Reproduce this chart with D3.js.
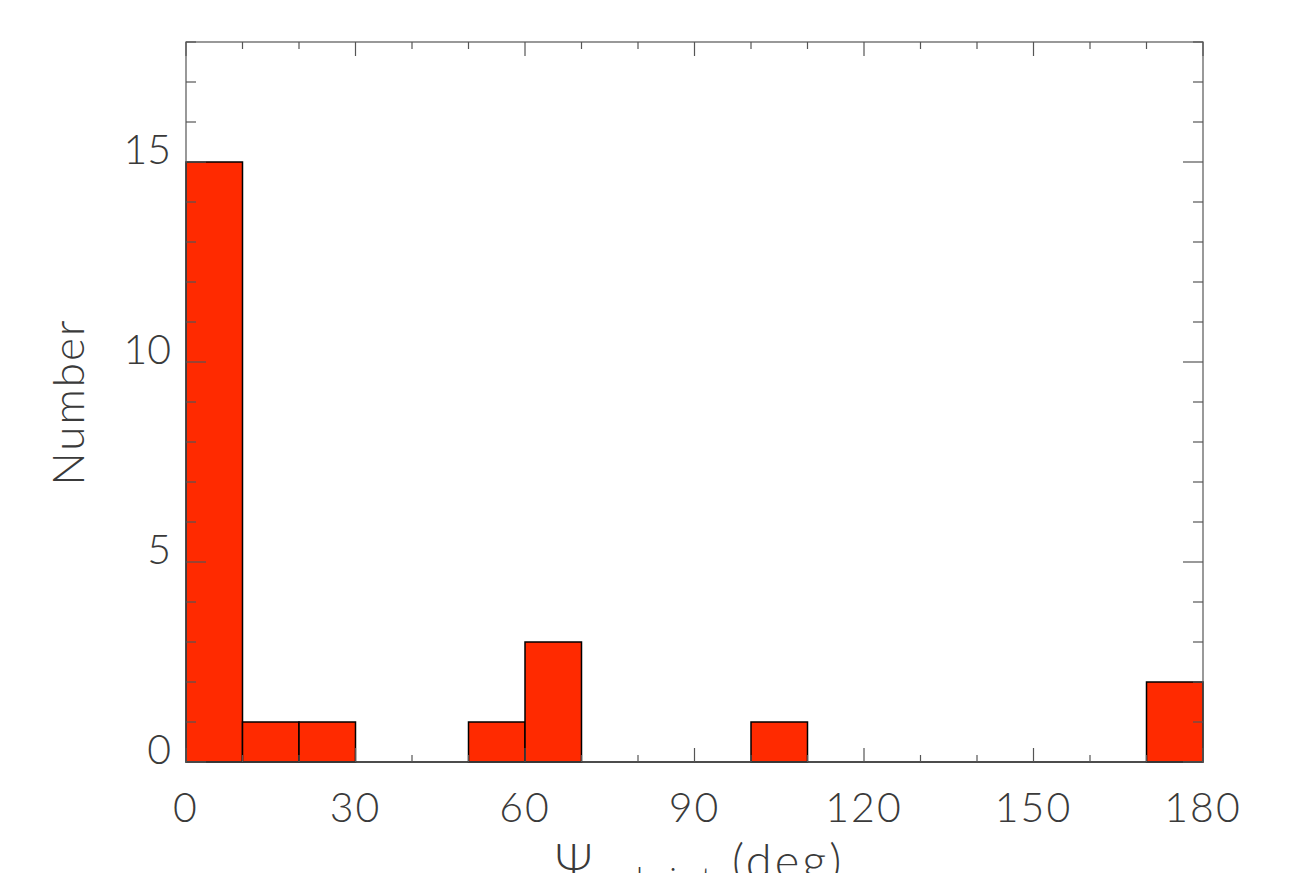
<!DOCTYPE html>
<html>
<head>
<meta charset="utf-8">
<script src="https://cdn.jsdelivr.net/npm/d3@7"></script>
<style>
  html, body { margin: 0; padding: 0; background: #fff; overflow: hidden; }
  text { font-family: Lato, "DejaVu Sans", sans-serif; font-weight: 300; fill: #3a3a3a; -webkit-font-smoothing: antialiased; }
</style>
</head>
<body>
<div id="chart"></div>
<script>
// histogram bins (deg) and counts
const binStarts = [0, 10, 20, 30, 40, 50, 60, 70, 80, 90, 100, 110, 120, 130, 140, 150, 160, 170];
const counts    = [15, 1, 1, 0, 0, 1, 3, 0, 0, 0, 1, 0, 0, 0, 0, 0, 0, 2];
const binWidth = 10;
const xTicks = [0, 30, 60, 90, 120, 150, 180];
const yTicks = [0, 5, 10, 15];

const width = 1303, height = 873;
const margin = { left: 186, right: 100, top: 42, bottom: 111 };

const svg = d3.select('#chart').append('svg')
  .attr('width', width)
  .attr('height', height);

const x = d3.scaleLinear().domain([0, 180]).range([margin.left, width - margin.right]);
const y = d3.scaleLinear().domain([0, 18]).range([height - margin.bottom, margin.top]);

// bars
svg.append('g').selectAll('rect')
  .data(binStarts.map((b, i) => ({ b, n: counts[i] })).filter(d => d.n > 0))
  .enter().append('rect')
  .attr('x', d => x(d.b))
  .attr('y', d => y(d.n))
  .attr('width', d => x(d.b + binWidth) - x(d.b))
  .attr('height', d => y(0) - y(d.n))
  .attr('fill', '#ff2a00')
  .attr('stroke', '#000')
  .attr('stroke-width', 1.5);

// zero line for empty bins (histogram outline)
svg.append('line')
  .attr('x1', x(0)).attr('x2', x(180))
  .attr('y1', y(0)).attr('y2', y(0))
  .attr('stroke', '#000').attr('stroke-width', 1.5);

// frame
const frame = svg.append('g').attr('stroke', '#555').attr('stroke-width', 1.2);
frame.append('rect')
  .attr('x', x(0)).attr('y', y(18))
  .attr('width', x(180) - x(0)).attr('height', y(0) - y(18))
  .attr('fill', 'none');

// x minor/major ticks, bottom and top, pointing inward
const xt = d3.range(0, 181, 10);
xt.forEach(v => {
  const len = v % 30 === 0 ? 14 : 7;
  frame.append('line').attr('x1', x(v)).attr('x2', x(v)).attr('y1', y(0)).attr('y2', y(0) - len);
  frame.append('line').attr('x1', x(v)).attr('x2', x(v)).attr('y1', y(18)).attr('y2', y(18) + len);
});
const yt = d3.range(0, 19, 1);
yt.forEach(v => {
  const len = v % 5 === 0 ? 20 : 10;
  frame.append('line').attr('x1', x(0)).attr('x2', x(0) + len).attr('y1', y(v)).attr('y2', y(v));
  frame.append('line').attr('x1', x(180)).attr('x2', x(180) - len).attr('y1', y(v)).attr('y2', y(v));
});

// tick labels
svg.append('g').selectAll('text')
  .data(xTicks).enter().append('text')
  .attr('x', d => x(d))
  .attr('y', y(0) + 60)
  .attr('text-anchor', 'middle')
  .style('font-size', '41px')
  .style('letter-spacing', '2px')
  .text(d => d);

svg.append('g').selectAll('text')
  .data(yTicks).enter().append('text')
  .attr('x', x(0) - 15)
  .attr('y', d => y(d) + 2)
  .attr('text-anchor', 'end')
  .style('font-size', '41px')
  .text(d => d);

// axis titles
svg.append('text')
  .attr('transform', `translate(84,${(y(0) + y(18)) / 2}) rotate(-90)`)
  .attr('text-anchor', 'middle')
  .style('font-size', '44px')
  .style('letter-spacing', '2px')
  .text('Number');

const xl = svg.append('text')
  .attr('x', 555)
  .attr('y', y(0) + 116)
  .style('font-size', '47px');
xl.append('tspan').text('Ψ');
xl.append('tspan').attr('dy', 12).style('font-size', '32px').style('letter-spacing', '4px').text('pol−jet');
xl.append('tspan').attr('dy', -12).style('letter-spacing', '3px').text(' (deg)');
</script>
</body>
</html>
